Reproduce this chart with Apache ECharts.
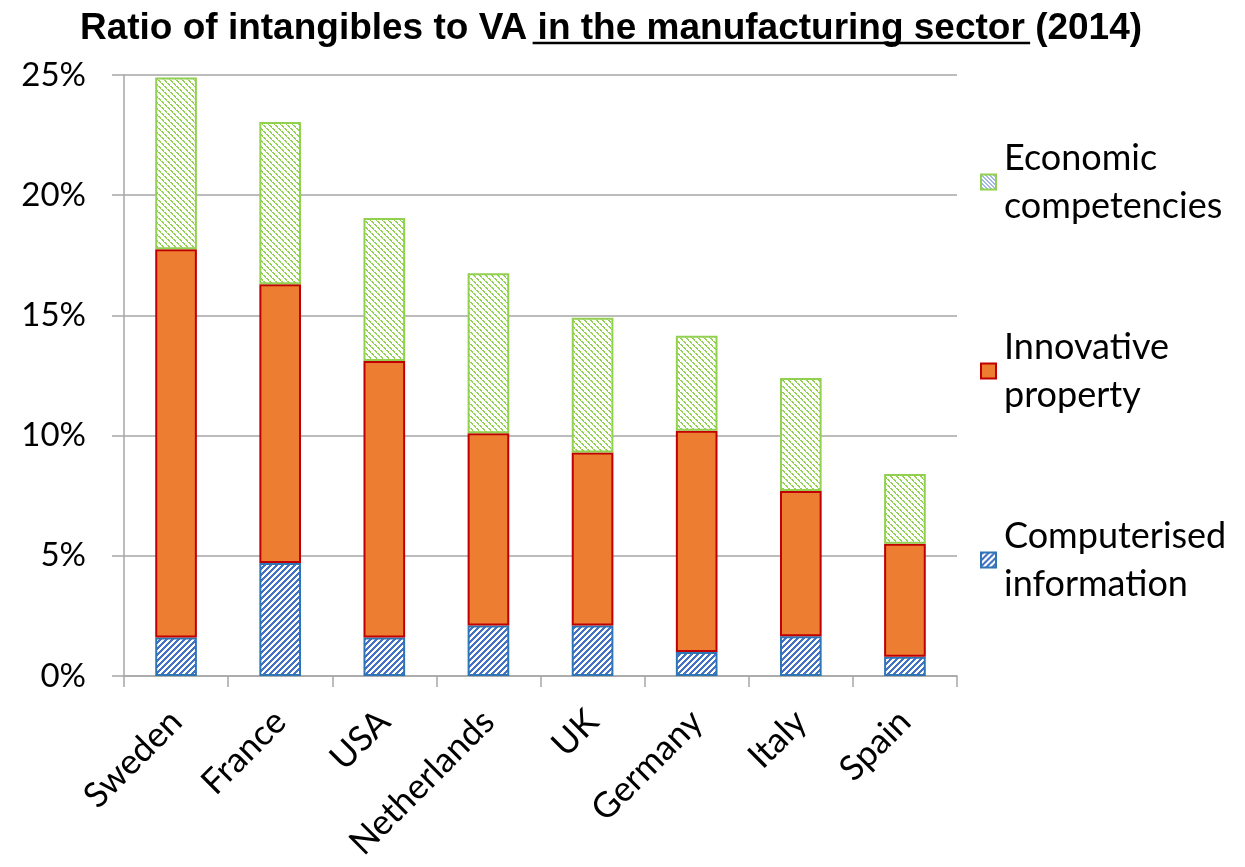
<!DOCTYPE html>
<html>
<head>
<meta charset="utf-8">
<script src="https://cdn.jsdelivr.net/npm/echarts@6/dist/echarts.min.js"></script>
<style>
  html, body { margin: 0; padding: 0; background: #fff; }
  #chart { width: 1245px; height: 867px; }
</style>
</head>
<body>
<div id="chart"></div>
<script>
// Shares of value added, in percent
const countries = ['Sweden', 'France', 'USA', 'Netherlands', 'UK', 'Germany', 'Italy', 'Spain'];
const computerised = [1.6, 4.7, 1.6, 2.1, 2.1, 1.0, 1.65, 0.8];
const innovative = [16.15, 11.6, 11.5, 8.0, 7.2, 9.2, 6.05, 4.7];
const economic = [7.15, 6.75, 5.95, 6.65, 5.6, 3.95, 4.7, 2.9];
const yTicks = [0, 5, 10, 15, 20, 25];

const FONT = 'Lato, "Open Sans", sans-serif';
const TITLE_FONT = '"Liberation Sans", Arial, sans-serif';
const TITLE_SIZE = 37;
const titleParts = ['Ratio of intangibles to VA ', 'in the manufacturing sector ', '(2014)'];
const TITLE_CENTER = 606;

// Tile builders for hatched fills
function stripeTile(size, fg, test) {
  const c = document.createElement('canvas');
  c.width = size; c.height = size;
  const ctx = c.getContext('2d');
  ctx.fillStyle = '#ffffff';
  ctx.fillRect(0, 0, size, size);
  ctx.fillStyle = fg;
  for (let x = 0; x < size; x++) {
    for (let y = 0; y < size; y++) {
      if (test(x, y)) ctx.fillRect(x, y, 1, 1);
    }
  }
  return c;
}
// wide blue "/" stripes
const blueUp = stripeTile(6, '#4472C4', (x, y) => ((x + y) % 6) < 3);
// dotted green "\" stripes
const greenDown = stripeTile(6, '#92D050', (x, y) => {
  const d = ((x - y) % 6 + 6) % 6;
  return d === 0 || (d === 1 && (x % 3 !== 2));
});
// thin blue "\" stripes used in the legend key
const blueDown = stripeTile(4, '#4472C4', (x, y) => ((x - y) % 4 + 4) % 4 === 0);

// Underline extent for the middle part of the title, from measured text widths
const mctx = document.createElement('canvas').getContext('2d');
mctx.font = 'bold ' + TITLE_SIZE + 'px ' + TITLE_FONT;
const wA = mctx.measureText(titleParts[0]).width;
const wB = mctx.measureText(titleParts[1]).width;
const wAll = mctx.measureText(titleParts.join('')).width;
const titleStart = TITLE_CENTER - wAll / 2;

const chart = echarts.init(document.getElementById('chart'));

chart.setOption({
  animation: false,
  backgroundColor: '#ffffff',
  title: {
    text: titleParts.join(''),
    left: TITLE_CENTER,
    textAlign: 'center',
    top: 5,
    textStyle: {
      fontFamily: TITLE_FONT,
      fontWeight: 'bold',
      fontSize: TITLE_SIZE,
      color: '#000'
    }
  },
  graphic: [{
    type: 'line',
    shape: { x1: titleStart + wA, y1: 43, x2: titleStart + wA + wB, y2: 43 },
    style: { stroke: '#000', lineWidth: 2.5 }
  }],
  grid: { left: 124, right: 288, top: 75, bottom: 191 },
  legend: {
    orient: 'vertical',
    left: 975,
    top: 105,
    itemWidth: 15,
    itemHeight: 15,
    itemGap: 45,
    icon: 'rect',
    data: [
      { name: 'Economic competencies', itemStyle: { color: { image: blueDown, repeat: 'repeat' }, borderColor: '#92D050', borderWidth: 2 } },
      { name: 'Innovative property' },
      { name: 'Computerised information' }
    ],
    formatter: function (n) { return n.replace(' ', '\n'); },
    textStyle: {
      fontFamily: FONT,
      fontSize: 36,
      color: '#000',
      lineHeight: 48,
      padding: [48, 0, 0, 3]
    }
  },
  xAxis: {
    type: 'category',
    data: countries,
    axisLine: { lineStyle: { color: '#A6A6A6', width: 1.5 } },
    axisTick: { show: true, length: 11, lineStyle: { color: '#A6A6A6', width: 1.5 } },
    axisLabel: {
      rotate: 45,
      margin: 40,
      fontFamily: FONT,
      fontSize: 35,
      color: '#000'
    }
  },
  yAxis: {
    type: 'value',
    min: 0,
    max: 25,
    interval: 5,
    axisLine: { show: true, lineStyle: { color: '#A6A6A6', width: 1.5 } },
    axisTick: { show: true, length: 12, lineStyle: { color: '#A6A6A6', width: 1.5 } },
    splitLine: { lineStyle: { color: '#A6A6A6', width: 1.5 } },
    axisLabel: {
      margin: 38,
      fontFamily: FONT,
      fontSize: 33,
      color: '#000',
      formatter: function (v) { return yTicks.indexOf(v) >= 0 ? v + '%' : ''; }
    }
  },
  series: [
    {
      name: 'Computerised information',
      type: 'bar',
      stack: 'total',
      barWidth: '40%',
      data: computerised,
      itemStyle: { color: { image: blueUp, repeat: 'repeat' }, borderColor: '#2E75B6', borderWidth: 2 }
    },
    {
      name: 'Innovative property',
      type: 'bar',
      stack: 'total',
      data: innovative,
      itemStyle: { color: '#ED7D31', borderColor: '#C00000', borderWidth: 2 }
    },
    {
      name: 'Economic competencies',
      type: 'bar',
      stack: 'total',
      data: economic,
      itemStyle: { color: { image: greenDown, repeat: 'repeat' }, borderColor: '#92D050', borderWidth: 2 }
    }
  ]
});
</script>
</body>
</html>
